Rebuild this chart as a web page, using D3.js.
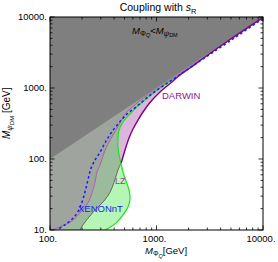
<!DOCTYPE html>
<html lang="en">
<head>
<meta charset="UTF-8">
<title>Coupling with sR</title>
<style>
  *{margin:0;padding:0;}
  body{background:#fff;}
  svg text{font-family:"Liberation Sans", Arial, sans-serif;}
</style>
</head>
<body>
<div id="chart"></div>
<script src="https://cdn.jsdelivr.net/npm/d3@7"></script>
<script>
// axis ticks
var xTicks = [100, 1000, 10000],
    xTickLabels = ["100.", "1000.", "10000."],
    yTicks = [10, 100, 1000, 10000],
    yTickLabels = ["10.", "100.", "1000.", "10000."];

// curves as [M_PhiQ, M_psiDM] in GeV
var darwinOuter = [[10000,9840],[4899,4822],[2854,2733],[2063,1912],[1663,1525],[1339,1157],
  [1079,878],[869,625],[747,459],[670,354],[602,265],[552,198],[517,148],[490,114],[469,91],[464,88]];
var darwinLow = [[464,88],[435,70],[399,47],[366,34],[321,25.6],[270,19.8],[232,15.2],[204,11.8],[191,10]];
var darwinInner = [[10000,9840],[2562,2480],[1079,1033],[780,747],[615,567],[517,444],[417,256],
  [366,185],[321,121],[295,82],[276,65.6],[265,47.4],[248,33.2],[227,24],[195,17.9],[161,13.4],[130,11.4],[104,10]];
var lz = [[1492,1406],[1079,1000],[832,735],[670,558],[552,417],[485,332],[445,256],[435,198],
  [435,148],[445,114],[464,88],[485,65.6],[517,49],[552,36.6],[564,27.3],[540,21.1],[485,16.3],[417,12.5],[358,10.7],[328,10]];
var xenon = [[10000,9526],[4899,4592],[2562,2401],[1492,1383],[1079,1000],[832,747],[642,540],[517,417],
  [435,311],[374,232],[328,168],[295,125],[265,96.8],[243,74.7],[227,50.6],[213,34.3],[195,22.5],[172,15.8],[141,12.1],[116,10]];

var W = 278, H = 262;
var pL = 50, pR = 263, pT = 17, pB = 230;

var svg = d3.select('#chart').append('svg').attr('width', W).attr('height', H);

var x = d3.scaleLog().domain([100, 10000]).range([pL, pR]);
var y = d3.scaleLog().domain([10, 10000]).range([pB, pT]);

var defs = svg.append('defs');
defs.append('clipPath').attr('id', 'plot')
  .append('rect').attr('x', pL).attr('y', pT).attr('width', pR - pL).attr('height', pB - pT);

var poly = d3.line().x(function (d) { return x(d[0]); }).y(function (d) { return y(d[1]); });
var smooth = d3.line().x(function (d) { return x(d[0]); }).y(function (d) { return y(d[1]); })
  .curve(d3.curveCatmullRom.alpha(0.5));

// region outlines
var pinkArea = [[100,100],[10000,10000]].concat(darwinOuter, darwinLow.slice(1), [[100,10]]);
var greenArea = [[100,100],[lz[0][0],lz[0][0]]].concat(lz, [[100,10]]);
var grayArea = [[100,100],[10000,10000]].concat(darwinInner, [[100,10]]);
var darkArea = [[100,100],[10000,10000],[100,10000]];

defs.append('clipPath').attr('id', 'lzclip')
  .append('path').attr('d', smooth(greenArea) + 'Z');

var g = svg.append('g').attr('clip-path', 'url(#plot)');

g.append('path').attr('d', smooth(pinkArea) + 'Z').attr('fill', '#dbb5db');
g.append('path').attr('d', smooth(greenArea) + 'Z').attr('fill', '#b5f5b5');
g.append('g').attr('clip-path', 'url(#lzclip)')
  .append('path').attr('d', smooth(pinkArea) + 'Z').attr('fill', '#9cbb9c');
g.append('path').attr('d', smooth(grayArea) + 'Z').attr('fill', '#9fa49f');
g.append('path').attr('d', poly(darkArea) + 'Z').attr('fill', '#7f7f7f');

// boundary lines
g.append('path').attr('d', smooth(darwinInner)).attr('fill', 'none')
  .attr('stroke', '#b452b4').attr('stroke-width', 0.9);
g.append('path').attr('d', smooth(darwinLow)).attr('fill', 'none')
  .attr('stroke', '#5a5a5a').attr('stroke-width', 0.9);
g.append('path').attr('d', smooth(lz)).attr('fill', 'none')
  .attr('stroke', '#19e619').attr('stroke-width', 1.2);
g.append('path').attr('d', smooth(darwinOuter)).attr('fill', 'none')
  .attr('stroke', '#800080').attr('stroke-width', 1.4);
g.append('path').attr('d', smooth(xenon)).attr('fill', 'none')
  .attr('stroke', '#1a1aff').attr('stroke-width', 1.5).attr('stroke-dasharray', '2.5,2.5');

// frame and ticks
svg.append('rect').attr('x', pL).attr('y', pT).attr('width', pR - pL).attr('height', pB - pT)
  .attr('fill', 'none').attr('stroke', '#000').attr('stroke-width', 1);

function minorTicks(lo, hi) {
  var out = [];
  for (var d = lo; d < hi; d *= 10)
    for (var k = 2; k <= 9; k++) out.push(d * k);
  return out;
}
var ticks = svg.append('g').attr('stroke', '#000').attr('stroke-width', 0.8);
xTicks.forEach(function (t) {
  ticks.append('line').attr('x1', x(t)).attr('x2', x(t)).attr('y1', pB).attr('y2', pB - 4.5);
  ticks.append('line').attr('x1', x(t)).attr('x2', x(t)).attr('y1', pT).attr('y2', pT + 4.5);
});
minorTicks(100, 10000).forEach(function (t) {
  ticks.append('line').attr('x1', x(t)).attr('x2', x(t)).attr('y1', pB).attr('y2', pB - 2.5);
  ticks.append('line').attr('x1', x(t)).attr('x2', x(t)).attr('y1', pT).attr('y2', pT + 2.5);
});
yTicks.forEach(function (t) {
  ticks.append('line').attr('x1', pL).attr('x2', pL + 4.5).attr('y1', y(t)).attr('y2', y(t));
  ticks.append('line').attr('x1', pR).attr('x2', pR - 4.5).attr('y1', y(t)).attr('y2', y(t));
});
minorTicks(10, 10000).forEach(function (t) {
  ticks.append('line').attr('x1', pL).attr('x2', pL + 2.5).attr('y1', y(t)).attr('y2', y(t));
  ticks.append('line').attr('x1', pR).attr('x2', pR - 2.5).attr('y1', y(t)).attr('y2', y(t));
});

svg.selectAll('.xl').data(xTicks).enter().append('text')
  .attr('x', function (d) { return x(d) - 2; }).attr('y', 242)
  .attr('text-anchor', 'middle').attr('font-size', 9.5)
  .text(function (d, i) { return xTickLabels[i]; });
svg.selectAll('.yl').data(yTicks).enter().append('text')
  .attr('x', 47).attr('y', function (d) { return y(d) + 2.8; })
  .attr('text-anchor', 'end').attr('font-size', 9.5)
  .text(function (d, i) { return yTickLabels[i]; });

// title
var title = svg.append('text').attr('x', 158).attr('y', 11).attr('text-anchor', 'middle').attr('font-size', 10.5);
title.append('tspan').text('Coupling with ');
title.append('tspan').attr('font-style', 'italic').text('s');
title.append('tspan').attr('font-size', 7.5).attr('dy', 2.5).text('R');

// axis titles
var xt = svg.append('text').attr('x', 145).attr('y', 254).attr('font-size', 9.5);
xt.append('tspan').attr('font-style', 'italic').text('M');
xt.append('tspan').attr('font-size', 7).attr('dy', 2).text('Φ');
xt.append('tspan').attr('font-size', 5.5).attr('dy', 1.5).attr('font-style', 'italic').text('Q');
xt.append('tspan').attr('dy', -3.5).text('[GeV]');

var yt = svg.append('text').attr('transform', 'translate(10,139) rotate(-90)').attr('font-size', 10);
yt.append('tspan').attr('font-style', 'italic').text('M');
yt.append('tspan').attr('font-size', 7.5).attr('dy', 2).attr('font-style', 'italic').text('ψ');
yt.append('tspan').attr('font-size', 6).attr('dy', 1.5).text('DM');
yt.append('tspan').attr('dy', -3.5).text(' [GeV]');

// region labels
var rl = svg.append('text').attr('x', 132).attr('y', 33.5).attr('font-size', 9.5);
rl.append('tspan').attr('font-style', 'italic').text('M');
rl.append('tspan').attr('font-size', 7.5).attr('dy', 2).text('Φ');
rl.append('tspan').attr('font-size', 5.5).attr('dy', 1.5).attr('font-style', 'italic').text('Q');
rl.append('tspan').attr('dy', -3.5).text('<');
rl.append('tspan').attr('font-style', 'italic').text('M');
rl.append('tspan').attr('font-size', 7.5).attr('dy', 2).attr('font-style', 'italic').text('ψ');
rl.append('tspan').attr('font-size', 5.5).attr('dy', 1.5).text('DM');

svg.append('text').attr('x', 162).attr('y', 98.5).attr('font-size', 9.5).attr('fill', '#8b1a8b').text('DARWIN');
svg.append('text').attr('x', 78).attr('y', 212).attr('font-size', 9.5).attr('fill', '#2020ff').text('XENONnT');
svg.append('text').attr('x', 115).attr('y', 183.5).attr('font-size', 9).attr('fill', '#9b3b9b').text('LZ');
</script>
</body>
</html>
